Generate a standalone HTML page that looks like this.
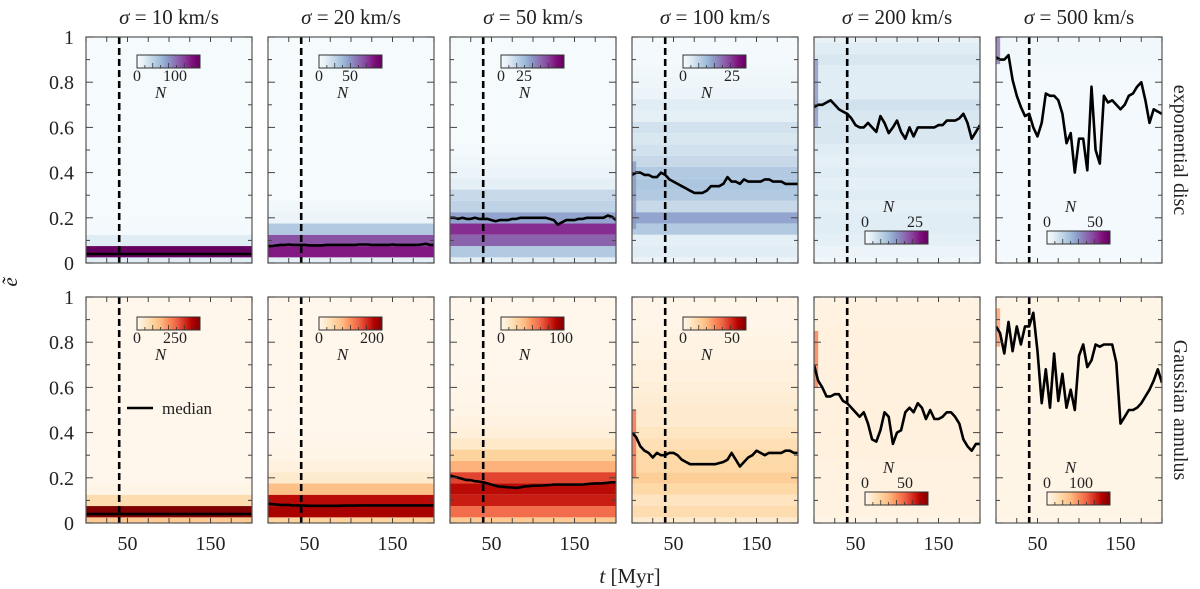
<!DOCTYPE html>
<html><head><meta charset="utf-8">
<style>
html,body{margin:0;padding:0;background:#fff;}
svg{display:block;font-family:"Liberation Serif","DejaVu Serif",serif;}
</style></head>
<body>
<svg id="fig" width="1200" height="589" viewBox="0 0 1200 589"></svg>
<script>
// ---- data ----
const titles = ["10","20","50","100","200","500"];
const eBins = [0,0.05,0.1,0.15,0.2,0.25,0.3,0.35,0.4,0.45,0.5,0.55,0.6,0.65,0.7,0.75,0.8,0.85,0.9,0.95,1.0];
const tMed = [0,5,10,15,20,25,30,35,40,45,50,55,60,65,70,75,80,85,90,95,100,105,110,115,120,125,130,135,140,145,150,155,160,165,170,175,180,185,190,195,200];
// heatmap profiles (relative density per e-bin)
const profTop1 = [0.12,1.0,0.12,0.02,0.01,0.01,0.01,0.01,0.01,0.01,0.01,0.01,0.01,0.01,0.01,0.01,0.01,0.01,0.01,0.01,0.01];
const profTop2 = [0.1,0.85,0.7,0.3,0.06,0.03,0.01,0.01,0.01,0.01,0.01,0.01,0.01,0.01,0.01,0.01,0.01,0.01,0.01,0.01,0.01];
const profTop3 = [0.1,0.3,0.65,0.8,0.45,0.25,0.22,0.1,0.06,0.04,0.02,0.01,0.01,0.01,0.01,0.01,0.01,0.01,0.01,0.01,0.01];
const profTop4 = [0.06,0.12,0.1,0.3,0.45,0.22,0.3,0.32,0.3,0.22,0.18,0.15,0.18,0.1,0.12,0.06,0.05,0.03,0.02,0.02,0.01];
const profTop5 = [0.03,0.06,0.1,0.12,0.12,0.1,0.12,0.1,0.12,0.1,0.12,0.15,0.15,0.15,0.18,0.12,0.12,0.12,0.15,0.12,0.08];
const profTop6 = [0.01,0.02,0.02,0.02,0.02,0.02,0.02,0.02,0.02,0.02,0.02,0.02,0.02,0.02,0.02,0.02,0.02,0.02,0.03,0.03,0.03];
const profBot1 = [0.3,1.0,0.2,0.02,0.0,0,0,0,0,0,0,0,0,0,0,0,0,0,0,0,0];
const profBot2 = [0.25,0.9,0.85,0.35,0.1,0.05,0.02,0.01,0,0,0,0,0,0,0,0,0,0,0,0,0];
const profBot3 = [0.3,0.6,0.8,0.85,0.7,0.4,0.25,0.12,0.06,0.04,0.02,0.01,0.01,0,0,0,0,0,0,0,0];
const profBot4 = [0.1,0.2,0.15,0.22,0.28,0.22,0.22,0.18,0.14,0.1,0.1,0.08,0.07,0.05,0.05,0.03,0.03,0.02,0.01,0.01,0.01];
const profBot5 = [0.02,0.04,0.04,0.04,0.04,0.04,0.05,0.05,0.05,0.05,0.05,0.05,0.05,0.05,0.05,0.05,0.05,0.05,0.04,0.04,0.03];
const profBot6 = [0.01,0.02,0.02,0.02,0.02,0.02,0.02,0.02,0.02,0.02,0.02,0.02,0.02,0.02,0.02,0.02,0.02,0.02,0.02,0.02,0.02];
// early-time enhancement [eLow, eHigh, intensity] for t < 5 Myr
const earlyTop = [null,null,null,[0.15,0.45,0.5],[0.6,0.9,0.5],[0.88,1.0,0.6]];
const earlyBot = [null,null,null,[0.2,0.5,0.6],[0.6,0.85,0.55],[0.78,0.95,0.45]];
// medians
const medTop1 = [0.04,0.04,0.04,0.04,0.04,0.04,0.04,0.04,0.04,0.04,0.04,0.04,0.04,0.04,0.04,0.04,0.04,0.04,0.04,0.04,0.04,0.04,0.04,0.04,0.04,0.04,0.04,0.04,0.04,0.04,0.04,0.04,0.04,0.04,0.04,0.04,0.04,0.04,0.04,0.04,0.04];
const medTop2 = [0.075,0.075,0.078,0.08,0.08,0.082,0.08,0.08,0.08,0.08,0.078,0.078,0.078,0.078,0.08,0.08,0.08,0.08,0.08,0.08,0.08,0.08,0.082,0.082,0.082,0.08,0.08,0.08,0.08,0.08,0.082,0.08,0.08,0.08,0.08,0.08,0.08,0.082,0.085,0.08,0.08];
const medTop3 = [0.2,0.2,0.195,0.2,0.195,0.195,0.2,0.195,0.195,0.195,0.19,0.185,0.19,0.19,0.19,0.195,0.195,0.2,0.2,0.2,0.2,0.2,0.2,0.2,0.195,0.19,0.17,0.18,0.19,0.19,0.19,0.195,0.195,0.2,0.2,0.2,0.2,0.2,0.21,0.205,0.19];
const medTop4 = [0.39,0.4,0.4,0.39,0.39,0.38,0.38,0.4,0.39,0.37,0.36,0.35,0.34,0.33,0.32,0.31,0.31,0.31,0.32,0.34,0.34,0.34,0.35,0.38,0.36,0.36,0.35,0.37,0.36,0.36,0.36,0.36,0.37,0.37,0.36,0.36,0.36,0.35,0.35,0.35,0.35];
const medTop5 = [0.69,0.7,0.7,0.71,0.72,0.7,0.68,0.67,0.66,0.64,0.61,0.6,0.6,0.62,0.6,0.58,0.65,0.62,0.575,0.6,0.63,0.58,0.55,0.6,0.56,0.6,0.6,0.6,0.6,0.6,0.61,0.61,0.63,0.63,0.63,0.64,0.66,0.62,0.55,0.58,0.61];
const medTop6 = [0.91,0.9,0.9,0.92,0.81,0.74,0.69,0.65,0.66,0.6,0.56,0.62,0.75,0.74,0.74,0.72,0.66,0.53,0.575,0.4,0.55,0.55,0.41,0.78,0.5,0.44,0.74,0.71,0.72,0.7,0.68,0.7,0.74,0.75,0.78,0.8,0.72,0.62,0.68,0.67,0.66];
const medBot1 = [0.04,0.04,0.04,0.04,0.04,0.04,0.04,0.04,0.04,0.04,0.04,0.04,0.04,0.04,0.04,0.04,0.04,0.04,0.04,0.04,0.04,0.04,0.04,0.04,0.04,0.04,0.04,0.04,0.04,0.04,0.04,0.04,0.04,0.04,0.04,0.04,0.04,0.04,0.04,0.04,0.04];
const medBot2 = [0.085,0.083,0.082,0.08,0.08,0.08,0.078,0.078,0.078,0.077,0.076,0.076,0.076,0.076,0.076,0.076,0.076,0.076,0.077,0.077,0.077,0.077,0.078,0.078,0.078,0.078,0.078,0.078,0.078,0.078,0.078,0.078,0.078,0.078,0.078,0.078,0.078,0.078,0.078,0.078,0.078];
const medBot3 = [0.21,0.205,0.2,0.195,0.19,0.19,0.185,0.183,0.18,0.175,0.17,0.165,0.16,0.16,0.158,0.157,0.155,0.158,0.162,0.163,0.165,0.165,0.166,0.167,0.168,0.17,0.17,0.17,0.17,0.17,0.17,0.17,0.17,0.172,0.174,0.175,0.175,0.176,0.178,0.18,0.18];
const medBot4 = [0.4,0.38,0.34,0.32,0.31,0.29,0.31,0.3,0.3,0.31,0.31,0.3,0.28,0.27,0.26,0.26,0.26,0.26,0.26,0.26,0.26,0.265,0.27,0.28,0.31,0.28,0.25,0.27,0.29,0.3,0.32,0.31,0.3,0.31,0.31,0.31,0.31,0.32,0.32,0.31,0.31];
const medBot5 = [0.7,0.63,0.6,0.56,0.56,0.57,0.57,0.54,0.53,0.51,0.49,0.47,0.49,0.44,0.37,0.36,0.41,0.49,0.47,0.35,0.4,0.41,0.49,0.51,0.49,0.53,0.51,0.46,0.5,0.46,0.46,0.47,0.49,0.49,0.47,0.44,0.37,0.34,0.32,0.35,0.35];
const medBot6 = [0.87,0.84,0.75,0.89,0.76,0.87,0.79,0.87,0.87,0.93,0.76,0.53,0.68,0.51,0.75,0.54,0.66,0.51,0.59,0.5,0.74,0.79,0.69,0.72,0.79,0.78,0.79,0.79,0.79,0.71,0.44,0.47,0.5,0.5,0.51,0.53,0.56,0.59,0.63,0.68,0.62];
// colourbar labels
const cbTopMax = ["100","50","25","25","25","50"];
const cbBotMax = ["250","200","100","50","50","100"];

const profTop=[profTop1,profTop2,profTop3,profTop4,profTop5,profTop6];
const profBot=[profBot1,profBot2,profBot3,profBot4,profBot5,profBot6];
const medTop=[medTop1,medTop2,medTop3,medTop4,medTop5,medTop6];
const medBot=[medBot1,medBot2,medBot3,medBot4,medBot5,medBot6];
const cbTopOff=[38,31,23,49,50,48];
const cbBotOff=[38,53,60,49,40,34];

// ---- drawing ----
const NS="http://www.w3.org/2000/svg";
const svg=document.getElementById('fig');
function mk(tag,attrs,parent){const e=document.createElementNS(NS,tag);for(const k in attrs)e.setAttribute(k,attrs[k]);(parent||svg).appendChild(e);return e;}
const BuPu=[[247,252,253],[224,236,244],[191,211,230],[158,188,218],[140,150,198],[140,107,177],[136,65,157],[129,15,124],[100,0,95]];
const OrRd=[[255,247,236],[254,232,200],[253,212,158],[253,187,132],[252,141,89],[239,101,72],[215,48,31],[179,0,0],[127,0,0]];
function cmap(cm,v){v=Math.max(0,Math.min(1,v));const p=v*(cm.length-1);const i=Math.min(cm.length-2,Math.floor(p));const f=p-i;const c=cm[i].map((a,j)=>Math.round(a+(cm[i+1][j]-a)*f));return `rgb(${c[0]},${c[1]},${c[2]})`;}
const PW=166,PH=226,X0=86,DX=182;
const rowsY=[37,297];
const xScale=(px,t)=>px+t/200*PW;
const yScale=(py,e)=>py+PH-e*PH;

function panel(col,row){
  const px=X0+col*DX, py=rowsY[row];
  const cm=row===0?BuPu:OrRd;
  const prof=row===0?profTop[col]:profBot[col];
  const g=mk('g',{});
  
  
  const cid=`clip${row}${col}`;
  const cp=mk('clipPath',{id:cid},g);mk('rect',{x:px,y:py,width:PW,height:PH},cp);
  const hg=mk('g',{'clip-path':`url(#${cid})`},g);
  mk('rect',{x:px,y:py,width:PW,height:PH,fill:cmap(cm,0)},hg);
  eBins.forEach((e,k)=>{
    const y1=yScale(py,Math.min(1,e+0.025)), y2=yScale(py,Math.max(0,e-0.025));
    const r=mk('rect',{x:px,y:y1,width:PW,height:y2-y1,fill:cmap(cm,prof[k])},hg);
    
    
  });
  const early=(row===0?earlyTop:earlyBot)[col];
  if(early){
    const r=mk('rect',{x:px,y:yScale(py,early[1]),width:xScale(px,5)-px,height:(early[1]-early[0])*PH,fill:cmap(cm,early[2]),opacity:0.8},hg);
    
    
  }
  const dl=mk('line',{x1:xScale(px,40),x2:xScale(px,40),y1:py,y2:py+PH,stroke:'#000','stroke-width':2.6,'stroke-dasharray':'7,4'},hg);
  
  
  const med=row===0?medTop[col]:medBot[col];
  const pts=tMed.map((t,i)=>`${xScale(px,t).toFixed(1)},${yScale(py,med[i]).toFixed(1)}`).join(' ');
  const ml=mk('polyline',{points:pts,fill:'none',stroke:'#000','stroke-width':2.6,'stroke-linejoin':'round'},hg);
  
  
  const fr=mk('rect',{x:px,y:py,width:PW,height:PH,fill:'none',stroke:'#555','stroke-width':1.2},g);
  
  
  for(let t=0;t<=200;t+=25){const x=xScale(px,t);mk('line',{x1:x,x2:x,y1:py+PH,y2:py+PH-5,stroke:'#444','stroke-width':1},g);mk('line',{x1:x,x2:x,y1:py,y2:py+5,stroke:'#444','stroke-width':1},g);}
  for(let k=0;k<=10;k++){const y=yScale(py,k/10);const L=k%2===0?7:4;mk('line',{x1:px,x2:px+L,y1:y,y2:y,stroke:'#444','stroke-width':1},g);mk('line',{x1:px+PW,x2:px+PW-L,y1:y,y2:y,stroke:'#444','stroke-width':1},g);}
  if(col===0){
    ["0","0.2","0.4","0.6","0.8","1"].forEach((s,k)=>{const tx=mk('text',{x:74,y:yScale(py,k*0.2)+7,'text-anchor':'end','font-size':20,fill:'#222'},g);tx.textContent=s;
      });
  }
  if(row===1){
    [50,150].forEach(t=>{const tx=mk('text',{x:xScale(px,t),y:550,'text-anchor':'middle','font-size':20,fill:'#222'},g);tx.textContent=String(t);
      });
  }
  const bottomCb=col>=4;
  const cbx=px+51, cbw=63, cbh=13;
  const cby=bottomCb?(row===0?231:492):(row===0?55:317);
  const cg=mk('g',{},g);
  
  
  const gid=`grad${row}${col}`;
  const lg=mk('linearGradient',{id:gid,x1:0,x2:1,y1:0,y2:0},cg);
  cm.forEach((c,i)=>mk('stop',{offset:i/(cm.length-1),'stop-color':`rgb(${c})`},lg));
  mk('rect',{x:cbx,y:cby,width:cbw,height:cbh,fill:`url(#${gid})`,stroke:'#333','stroke-width':1},cg);
  for(let i=1;i<8;i++){mk('line',{x1:cbx+i*cbw/8,x2:cbx+i*cbw/8,y1:cby+cbh,y2:cby+cbh-(i%2?3:5),stroke:'#333','stroke-width':0.8},cg);}
  const off=(row===0?cbTopOff:cbBotOff)[col];
  const lblY=bottomCb?cby-4:cby+26;
  const nY=bottomCb?cby-19:cby+43;
  const t0=mk('text',{x:cbx,y:lblY,'text-anchor':'middle','font-size':16,fill:'#222'},cg);t0.textContent="0";
  const t1=mk('text',{x:cbx+off,y:lblY,'text-anchor':'middle','font-size':16,fill:'#222'},cg);t1.textContent=(row===0?cbTopMax:cbBotMax)[col];
  const tn=mk('text',{x:cbx+cbw/2-8,y:nY,'text-anchor':'middle','font-size':17,'font-style':'italic',fill:'#222'},cg);tn.textContent="N";
  if(row===0){
    const tt=mk('text',{x:px+PW/2,y:24,'text-anchor':'middle','font-size':21,fill:'#222'},g);
    tt.innerHTML=`<tspan font-style="italic">σ</tspan> = ${titles[col]} km/s`;
    
  }
}
for(let r=0;r<2;r++)for(let c=0;c<6;c++)panel(c,r);

const lgG=mk('g',{});


mk('line',{x1:127,x2:153,y1:408,y2:408,stroke:'#000','stroke-width':2.6},lgG);
const lt=mk('text',{x:162,y:414,'font-size':17,fill:'#222'},lgG);lt.textContent="median";

const yl=mk('text',{x:0,y:0,'font-size':21,'font-style':'italic',fill:'#222',transform:'translate(17,282) rotate(-90)','text-anchor':'middle'});
yl.textContent="ẽ";

const xl=mk('text',{x:630,y:583,'font-size':21,'text-anchor':'middle',fill:'#222'});
xl.innerHTML='<tspan font-style="italic">t</tspan>  [Myr]';

const r1=mk('text',{x:0,y:0,'font-size':20,'text-anchor':'middle',fill:'#222',transform:'translate(1174,150) rotate(90)'});
r1.textContent="exponential disc";

const r2=mk('text',{x:0,y:0,'font-size':20,'text-anchor':'middle',fill:'#222',transform:'translate(1174,410) rotate(90)'});
r2.textContent="Gaussian annulus";

</script>
</body></html>
